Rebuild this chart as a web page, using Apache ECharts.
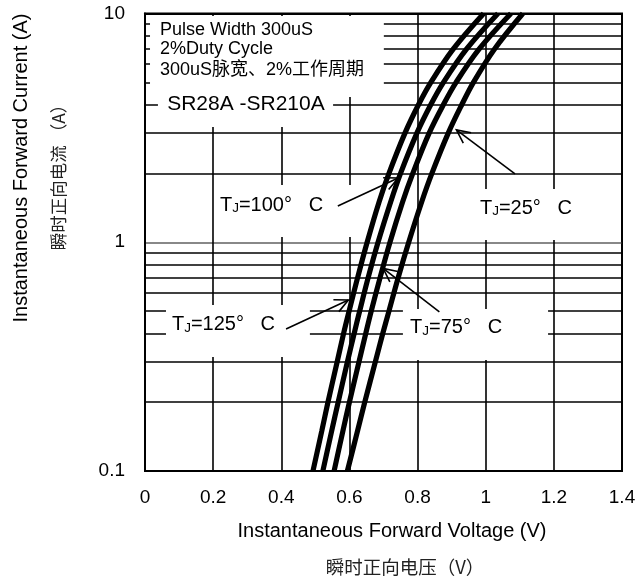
<!DOCTYPE html>
<html><head><meta charset="utf-8">
<script src="https://cdn.jsdelivr.net/npm/echarts@6/dist/echarts.min.js"></script>
<style>html,body{margin:0;padding:0;background:#fff}#c{width:642px;height:577px}</style>
</head><body><div id="c"></div>
<script>
// ---- data ----
const currents = [0.1, 0.15, 0.2, 0.3, 0.4, 0.5, 0.7, 1, 1.5, 2, 3, 4, 5, 7, 10];
const v125 = [0.493, 0.519, 0.537, 0.564, 0.583, 0.599, 0.624, 0.652, 0.687, 0.716, 0.763, 0.803, 0.839, 0.905, 0.994];
const v100 = [0.522, 0.548, 0.567, 0.594, 0.614, 0.630, 0.655, 0.684, 0.721, 0.750, 0.798, 0.839, 0.876, 0.944, 1.036];
const v75  = [0.555, 0.581, 0.600, 0.628, 0.648, 0.664, 0.690, 0.719, 0.756, 0.786, 0.834, 0.876, 0.913, 0.981, 1.074];
const v25  = [0.594, 0.624, 0.645, 0.676, 0.698, 0.716, 0.743, 0.774, 0.812, 0.842, 0.890, 0.930, 0.964, 1.026, 1.109];
const xTicks = [0, 0.2, 0.4, 0.6, 0.8, 1, 1.2, 1.4];
const yTicks = [0.1, 1, 10];
const minorGrid = [0.2, 0.3, 0.4, 0.5, 0.6, 0.7, 0.8, 0.9, 2, 3, 4, 5, 6, 7, 8, 9];
const noteLines = ['Pulse Width 300uS', '2%Duty Cycle', '300uS脉宽、2%工作周期'];
const noteAnchors = [[0.044, 8.47], [0.044, 6.96], [0.044, 5.66]];
const modelLabel = 'SR28A -SR210A';
const modelAnchor = [0.065, 4];
const tjTemps = ['100', '25', '125', '75'];
const tjAnchors = [[0.220, 1.455], [0.983, 1.411], [0.079, 0.435], [0.778, 0.422]];
const arrowTails = [[0.566, 1.44], [1.086, 1.99], [0.414, 0.418], [0.864, 0.496]];
const arrowTips  = [[0.743, 1.91], [0.914, 3.10], [0.597, 0.559], [0.699, 0.769]];
const whiteBoxes = [
  [[0.0147, 9.75], [0.701, 4.31]],
  [[0.038, 4.54], [0.552, 3.19]],
  [[0.2025, 1.78], [0.6076, 1.054]],
  [[0.866, 1.71], [1.365, 1.023]],
  [[0.0616, 0.532], [0.484, 0.315]],
  [[0.757, 0.511], [1.183, 0.306]]
];
const xName = 'Instantaneous Forward Voltage (V)';
const xNameCn = '瞬时正向电压（V）';
const yName = 'Instantaneous Forward Current (A)';
const yNameCn = '瞬时正向电流 （A）';

const EN = '"Liberation Sans", Arial, sans-serif';
const CN = '"Noto Sans CJK SC", sans-serif';

const chart = echarts.init(document.getElementById('c'), null, {renderer: 'canvas'});
const curveSets = [v125, v100, v75, v25];
const curveSeries = curveSets.map((vs, k) => ({
  type: 'line', z: 3, smooth: 0.35, showSymbol: false, silent: true,
  data: currents.map((c, i) => [vs[i], c]),
  lineStyle: {color: '#000', width: 5.2}
}));

chart.setOption({
  animation: false,
  grid: {left: 145, right: 20, top: 13.5, bottom: 106, show: true, borderColor: '#000', borderWidth: 2, backgroundColor: 'transparent'},
  xAxis: {
    type: 'value', min: 0, max: 1.4, interval: 0.2,
    axisLine: {lineStyle: {color: '#000', width: 2}},
    axisTick: {show: false},
    axisLabel: {color: '#000', fontSize: 19, fontFamily: EN, margin: 17,
      formatter: v => String(Math.round(v * 10) / 10)},
    splitLine: {show: true, lineStyle: {color: '#000', width: 1.6}}
  },
  yAxis: {
    type: 'log', logBase: 10, min: 0.1, max: 10,
    axisLine: {show: true, lineStyle: {color: '#000', width: 2}},
    axisTick: {show: false},
    axisLabel: {color: '#000', fontSize: 19, fontFamily: EN, margin: 20,
      formatter: v => String(Math.round(v * 10) / 10)},
    splitLine: {show: true, lineStyle: {color: ['#000', '#888', '#000'], width: 2}}
  },
  series: [
    {type: 'line', data: [], z: 1, silent: true,
     markLine: {z: 1, silent: true, symbol: ['none', 'none'], label: {show: false},
       lineStyle: {color: '#000', width: 1.6, type: 'solid'},
       emphasis: {disabled: true},
       data: minorGrid.map(v => ({yAxis: v}))}},
    {type: 'line', data: [], z: 2, silent: true,
     markArea: {z: 2, silent: true, itemStyle: {color: '#fff', opacity: 1}, label: {show: false},
       emphasis: {disabled: true},
       data: whiteBoxes.map(b => [{coord: b[0]}, {coord: b[1]}])}}
  ].concat(curveSeries)
});

const px = p => chart.convertToPixel({gridIndex: 0}, p);
const g = [];
function txt(x, y, text, font, opts) {
  g.push(Object.assign({type: 'text', x: x, y: y, z: 100, silent: true,
    style: Object.assign({text: text, font: font, fill: '#000', textAlign: 'left', align: 'left',
      textVerticalAlign: 'middle', verticalAlign: 'middle'}, (opts && opts.style) || {})},
    opts && opts.rotation ? {rotation: opts.rotation} : {}));
}
noteLines.forEach((t, i) => {
  const p = px(noteAnchors[i]);
  txt(p[0], p[1], t, '18px ' + (i === 2 ? '"Liberation Sans","Noto Sans CJK SC",sans-serif' : EN));
});
{ const p = px(modelAnchor); txt(p[0], p[1], modelLabel, '21px ' + EN); }
tjTemps.forEach((t, i) => {
  const p = px(tjAnchors[i]);
  g.push({type: 'text', x: p[0], y: p[1], z: 100, silent: true,
    style: {text: '{a|T}{b|J}{a|=' + t + '°   C}', fill: '#000', textAlign: 'left', align: 'left',
      textVerticalAlign: 'middle', verticalAlign: 'middle',
      rich: {a: {fontSize: 20, fontFamily: EN, fill: '#000', color: '#000', verticalAlign: 'bottom'},
             b: {fontSize: 13.5, fontFamily: EN, fill: '#000', color: '#000', verticalAlign: 'bottom'}}}});
});
arrowTails.forEach((tl, i) => {
  const a = px(tl), b = px(arrowTips[i]);
  g.push({type: 'line', z: 100, silent: true, shape: {x1: a[0], y1: a[1], x2: b[0], y2: b[1]},
    style: {stroke: '#000', lineWidth: 1.6}});
  const dx = a[0] - b[0], dy = a[1] - b[1], L = Math.hypot(dx, dy);
  const ux = dx / L, uy = dy / L, h = 15, th = 0.45;
  const r = s => [b[0] + h * (ux * Math.cos(s) - uy * Math.sin(s)), b[1] + h * (ux * Math.sin(s) + uy * Math.cos(s))];
  g.push({type: 'polyline', z: 100, silent: true, shape: {points: [r(th), b, r(-th)]},
    style: {stroke: '#000', lineWidth: 1.6, fill: null}});
});
// axis names
txt(392, 531, xName, '20px ' + EN, {style: {textAlign: 'center', align: 'center'}});
txt(405, 567, xNameCn, '18.5px ' + CN, {style: {textAlign: 'center', align: 'center', fill: '#222'}});
txt(21, 168, yName, '20px ' + EN, {rotation: Math.PI / 2, style: {textAlign: 'center', align: 'center'}});
txt(58, 173, yNameCn, '17.5px ' + CN, {rotation: Math.PI / 2, style: {textAlign: 'center', align: 'center', fill: '#222'}});
chart.setOption({graphic: {elements: g}});
</script></body></html>
